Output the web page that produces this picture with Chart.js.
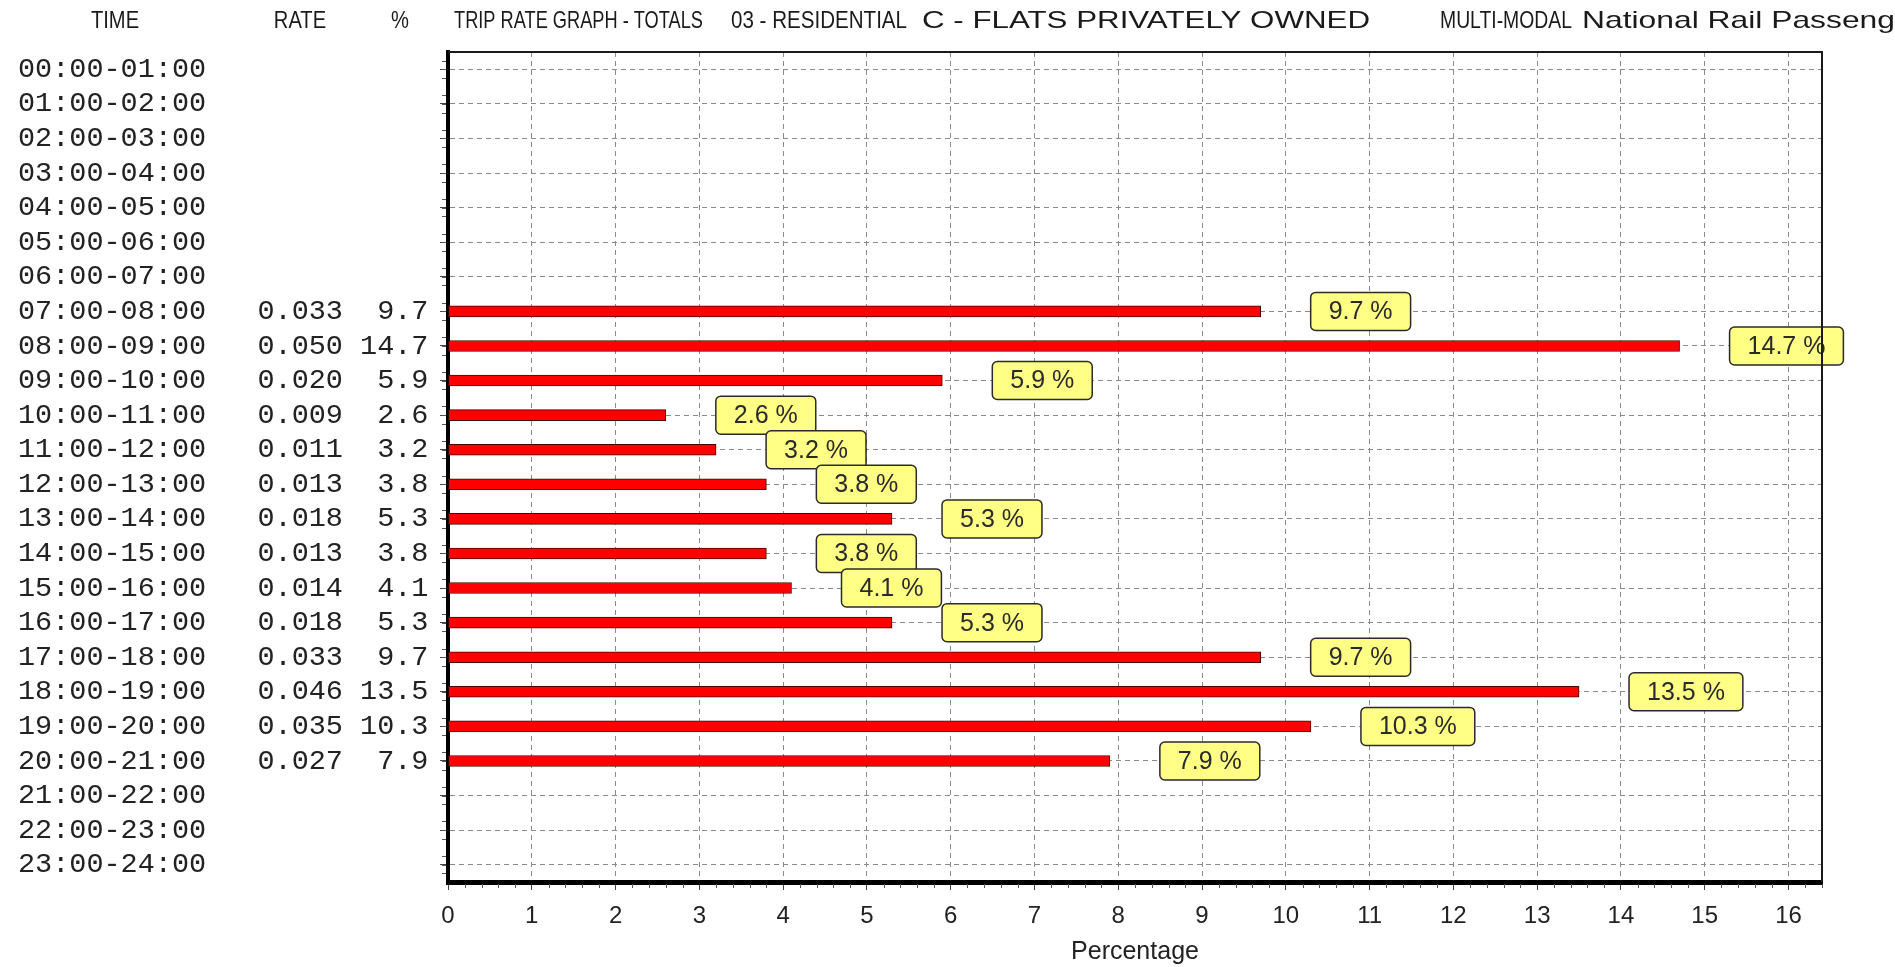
<!DOCTYPE html>
<html>
<head>
<meta charset="utf-8">
<title>Trip rate graph</title>
<script src="https://cdn.jsdelivr.net/npm/chart.js@4.4.1/dist/chart.umd.min.js"></script>
<style>
  html, body { margin: 0; background: #fff; }
</style>
</head>
<body>
<canvas id="myChart" width="1895" height="967"></canvas>
<script>
const hours = [
  '00:00-01:00', '01:00-02:00', '02:00-03:00', '03:00-04:00', '04:00-05:00', '05:00-06:00',
  '06:00-07:00', '07:00-08:00', '08:00-09:00', '09:00-10:00', '10:00-11:00', '11:00-12:00',
  '12:00-13:00', '13:00-14:00', '14:00-15:00', '15:00-16:00', '16:00-17:00', '17:00-18:00',
  '18:00-19:00', '19:00-20:00', '20:00-21:00', '21:00-22:00', '22:00-23:00', '23:00-24:00'
];
const rates = [
  null, null, null, null, null, null, null,
  0.033, 0.050, 0.020, 0.009, 0.011, 0.013, 0.018, 0.013, 0.014, 0.018, 0.033, 0.046, 0.035, 0.027,
  null, null, null
];
const percents = [
  null, null, null, null, null, null, null,
  9.7, 14.7, 5.9, 2.6, 3.2, 3.8, 5.3, 3.8, 4.1, 5.3, 9.7, 13.5, 10.3, 7.9,
  null, null, null
];
const headers = [
  { text: 'TIME', center: 115 },
  { text: 'RATE', center: 300 },
  { text: '%', center: 400 }
];
const titleParts = [
  { text: 'TRIP RATE GRAPH - TOTALS', x: 454, width: 249 },
  { text: '03 - RESIDENTIAL', x: 731, width: 176 },
  { text: 'C - FLATS PRIVATELY OWNED', x: 922, width: 448 },
  { text: 'MULTI-MODAL', x: 1440, width: 132 },
  { text: 'National Rail Passengers', x: 1582, width: 313, fit: 'National Rail Passeng' }
];
const xMax = 16.4;
const axisTitle = 'Percentage';

function rowLabel(i) {
  if (rates[i] == null) return hours[i];
  return hours[i] + '   ' + rates[i].toFixed(3) + ' ' + percents[i].toFixed(1).padStart(4);
}

// header text, squeezed sideways like the original narrow font
const header = {
  id: 'header',
  afterDraw(chart) {
    const ctx = chart.ctx;
    ctx.save();
    ctx.font = '24px "Liberation Sans", Arial, sans-serif';
    ctx.fillStyle = '#1a1a1a';
    ctx.textBaseline = 'middle';
    const y = 21;
    const squeeze = 0.84;
    headers.forEach(h => {
      const w = ctx.measureText(h.text).width * squeeze;
      ctx.save();
      ctx.translate(h.center - w / 2, y);
      ctx.scale(squeeze, 1);
      ctx.fillText(h.text, 0, 0);
      ctx.restore();
    });
    titleParts.forEach(p => {
      const s = p.width / ctx.measureText(p.fit || p.text).width;
      ctx.save();
      ctx.translate(p.x, y);
      ctx.scale(s, 1);
      ctx.fillText(p.text, 0, 0);
      ctx.restore();
    });
    ctx.restore();
  }
};

// top/right frame and the small minor ticks
const frame = {
  id: 'frame',
  afterDraw(chart) {
    const { ctx, chartArea: a, scales: { x, y } } = chart;
    ctx.save();
    ctx.strokeStyle = '#555';
    ctx.lineWidth = 1;
    ctx.beginPath();
    for (let v = 0.2; v < x.max; v += 0.2) {
      if (Math.abs(v - Math.round(v)) < 0.01) continue;
      const px = Math.round(x.getPixelForValue(v)) + 0.5;
      ctx.moveTo(px, a.bottom + 2);
      ctx.lineTo(px, a.bottom + 6);
    }
    for (let i = 0; i < hours.length; i++) {
      for (let k = 1; k < 4; k++) {
        const py = Math.round(y.getPixelForValue(i - 0.5 + k * 0.25)) + 0.5;
        ctx.moveTo(a.left - 6, py);
        ctx.lineTo(a.left - 2, py);
      }
    }
    ctx.stroke();
    ctx.strokeStyle = '#1a1a1a';
    ctx.lineWidth = 2;
    ctx.beginPath();
    ctx.moveTo(a.left, a.top);
    ctx.lineTo(a.right, a.top);
    ctx.lineTo(a.right, a.bottom);
    ctx.stroke();
    ctx.restore();
  }
};

// yellow "x.x %" boxes to the right of each bar
const boxLabels = {
  id: 'boxLabels',
  afterDatasetsDraw(chart) {
    const ctx = chart.ctx;
    const meta = chart.getDatasetMeta(0);
    ctx.save();
    ctx.font = '25px "Liberation Sans", Arial, sans-serif';
    ctx.textAlign = 'center';
    ctx.textBaseline = 'middle';
    meta.data.forEach((bar, i) => {
      if (percents[i] == null) return;
      const text = percents[i].toFixed(1) + ' %';
      const w = ctx.measureText(text).width + 36;
      const h = 38;
      const bx = bar.x + 50;
      const by = bar.y - h / 2;
      ctx.beginPath();
      ctx.roundRect(bx, by, w, h, 5);
      ctx.fillStyle = '#ffff85';
      ctx.fill();
      ctx.lineWidth = 1.5;
      ctx.strokeStyle = '#2a2a2a';
      ctx.stroke();
      ctx.fillStyle = '#2a2a2a';
      ctx.fillText(text, bx + w / 2, bar.y + 1);
    });
    ctx.restore();
  }
};

const ctx = document.getElementById('myChart');

new Chart(ctx, {
  type: 'bar',
  data: {
    labels: hours,
    datasets: [{
      data: percents,
      backgroundColor: '#ff0000',
      borderColor: '#4a0000',
      borderWidth: 1,
      borderSkipped: false,
      barThickness: 11
    }]
  },
  options: {
    indexAxis: 'y',
    responsive: false,
    animation: false,
    devicePixelRatio: 1,
    layout: { padding: { left: 18, top: 52, right: 73, bottom: 0 } },
    plugins: {
      legend: { display: false },
      tooltip: { enabled: false }
    },
    scales: {
      y: {
        offset: true,
        afterFit: scale => { scale.width = 430; },
        grid: {
          offset: false,
          color: '#8a8a8a',
          lineWidth: 1,
          tickLength: 8,
          tickColor: '#444',
          tickWidth: 1
        },
        border: { color: '#000', width: 4, dash: [5, 4] },
        ticks: {
          autoSkip: false,
          crossAlign: 'far',
          color: '#222',
          font: { family: '"Liberation Mono", monospace', size: 28.5 },
          callback: (value, index) => rowLabel(index)
        }
      },
      x: {
        min: 0,
        max: xMax,
        afterFit: scale => { scale.height = 85; },
        grid: {
          color: c => (c.tick && c.tick.value === 0) ? 'rgba(0,0,0,0)' : '#8a8a8a',
          lineWidth: 1,
          tickLength: 8,
          tickColor: '#444',
          tickWidth: 1
        },
        border: { color: '#000', width: 5, dash: [5, 4] },
        ticks: {
          stepSize: 1,
          includeBounds: false,
          padding: 12,
          color: '#222',
          font: { family: '"Liberation Sans Narrow", "Liberation Sans", Arial, sans-serif', size: 24 }
        },
        title: {
          display: true,
          text: axisTitle,
          color: '#222',
          font: { family: '"Liberation Sans Narrow", "Liberation Sans", Arial, sans-serif', size: 25 },
          padding: { top: 3, bottom: 0 }
        }
      }
    }
  },
  plugins: [boxLabels, frame, header]
});
</script>
</body>
</html>
